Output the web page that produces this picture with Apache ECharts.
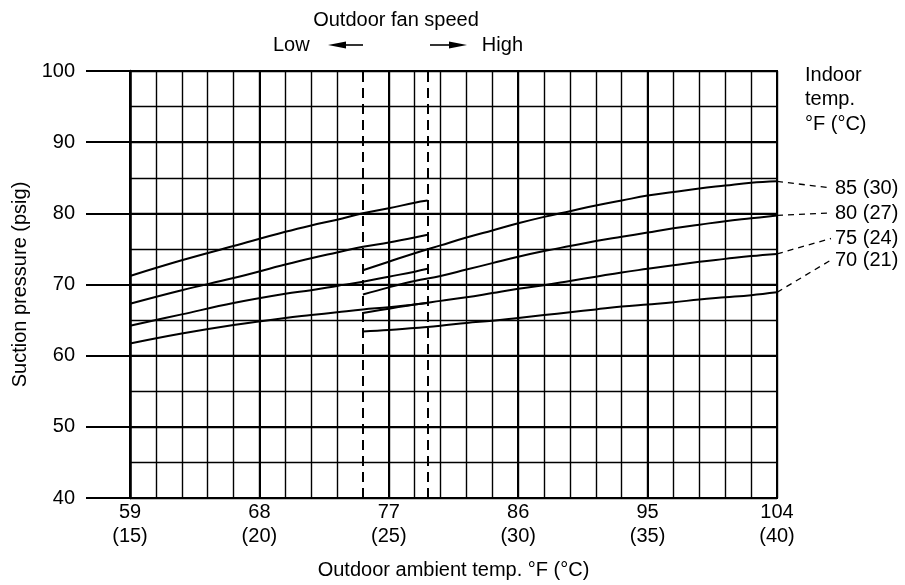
<!DOCTYPE html>
<html>
<head>
<meta charset="utf-8">
<script src="https://cdn.jsdelivr.net/npm/echarts@6/dist/echarts.min.js"></script>
<style>
  html, body { margin: 0; padding: 0; background: #fff; }
  #chart { width: 905px; height: 585px; }
</style>
</head>
<body>
<div id="chart"></div>
<script>
// Outdoor ambient temperature, °C (the axis runs in °C, labelled °F with °C below)
const lowFanTempC  = [15, 17, 19, 21, 22, 23, 24, 25, 26, 26.5];
const highFanTempC = [24, 25, 26, 27, 28, 29, 30, 31, 32, 33, 34, 35, 36, 37, 38, 39, 40];

// Suction pressure (psig), low outdoor fan speed
const low85 = [71.2, 73.4, 75.4, 77.4, 78.3, 79.1, 80.0, 80.7, 81.5, 81.8];
const low80 = [67.3, 69.2, 70.9, 72.8, 73.7, 74.5, 75.3, 75.9, 76.6, 77.0];
const low75 = [64.2, 65.8, 67.4, 68.7, 69.2, 69.8, 70.4, 71.1, 71.8, 72.2];
const low70 = [61.7, 63.1, 64.3, 65.3, 65.7, 66.1, 66.5, 66.8, 67.2, 67.4];

// Suction pressure (psig), high outdoor fan speed
const high85 = [72.0, 73.2, 74.4, 75.5, 76.6, 77.6, 78.6, 79.5, 80.3, 81.1, 81.8, 82.5, 83.0, 83.5, 83.9, 84.3, 84.5];
const high80 = [68.6, 69.6, 70.5, 71.2, 72.1, 73.0, 73.9, 74.7, 75.4, 76.1, 76.7, 77.3, 77.9, 78.4, 78.9, 79.3, 79.7];
const high75 = [66.0, 66.6, 67.2, 67.7, 68.2, 68.8, 69.4, 69.9, 70.5, 71.1, 71.7, 72.2, 72.7, 73.2, 73.6, 74.0, 74.3];
const high70 = [63.4, 63.6, 63.9, 64.2, 64.6, 64.9, 65.3, 65.7, 66.1, 66.5, 66.9, 67.2, 67.5, 67.9, 68.2, 68.5, 68.9];

// Indoor temperature curves
const indoorF = [85, 80, 75, 70];
const indoorC = [30, 27, 24, 21];

// Fan speed change-over temperatures, °C
const fanSwitchC = [24, 26.5];

// Tick labels of the outdoor axis
const tickC = [15, 20, 25, 30, 35, 40];
const tickF = [59, 68, 77, 86, 95, 104];

const FONT = '"Liberation Sans", Arial, Helvetica, sans-serif';
const lowSets = [low85, low80, low75, low70];
const highSets = [high85, high80, high75, high70];

const pairs = (xs, ys) => xs.map((x, i) => [x, ys[i]]);

// 1 °C grid lines; the one under the first change-over line is left out
const minorColors = [];
for (let c = 15; c <= 40; c++) minorColors.push(c === fanSwitchC[0] ? 'rgba(0,0,0,0)' : '#000');

const curveStyle = { color: '#000', width: 2 };
const series = [];
indoorF.forEach((t, i) => {
  series.push({
    name: t + ' low', type: 'line', xAxisIndex: 0, yAxisIndex: 0,
    data: pairs(lowFanTempC, lowSets[i]), showSymbol: false, smooth: 0.4,
    lineStyle: curveStyle, z: 5, silent: true
  });
  series.push({
    name: t + ' high', type: 'line', xAxisIndex: 0, yAxisIndex: 0,
    data: pairs(highFanTempC, highSets[i]), showSymbol: false, smooth: 0.4,
    lineStyle: curveStyle, z: 5, silent: true
  });
});
series[0].markLine = {
  silent: true, symbol: ['none', 'none'], label: { show: false },
  lineStyle: { color: '#000', width: 2, type: [10, 6] },
  data: fanSwitchC.map(c => ({ xAxis: c }))
};

const chart = echarts.init(document.getElementById('chart'), null, { renderer: 'canvas' });
chart.setOption({
  animation: false,
  backgroundColor: '#fff',
  textStyle: { fontFamily: FONT, color: '#000' },
  grid: { left: 130, top: 71, width: 647, height: 430, show: true, borderColor: '#000', borderWidth: 2, backgroundColor: 'transparent' },
  xAxis: [
    {
      type: 'value', min: 15, max: 40, interval: 5,
      axisLine: { show: false }, axisTick: { show: false },
      splitLine: { show: true, lineStyle: { color: '#000', width: 2 } },
      axisLabel: {
        fontSize: 20, lineHeight: 24, margin: 2, color: '#000', fontFamily: FONT,
        showMinLabel: true, showMaxLabel: true,
        formatter: v => {
          const k = tickC.indexOf(Math.round(v * 10) / 10);
          return k < 0 ? '' : tickF[k] + '\n(' + tickC[k] + ')';
        }
      },
      name: 'Outdoor ambient temp. °F (°C)', nameLocation: 'middle', nameGap: 62,
      nameTextStyle: { fontSize: 20, color: '#000', fontFamily: FONT }
    },
    {
      type: 'value', min: 15, max: 40, interval: 1, position: 'bottom',
      axisLine: { show: false }, axisTick: { show: false }, axisLabel: { show: false },
      splitLine: { show: true, lineStyle: { color: minorColors, width: 1.4 } }
    }
  ],
  yAxis: [
    {
      type: 'value', min: 40, max: 100, interval: 10,
      axisLine: { show: true, lineStyle: { color: '#000', width: 2.5 } },
      axisTick: { show: true, length: 44, lineStyle: { color: '#000', width: 2 } },
      splitLine: { show: true, lineStyle: { color: '#000', width: 2 } },
      axisLabel: { fontSize: 20, margin: 55, color: '#000', fontFamily: FONT },
      name: 'Suction pressure (psig)', nameLocation: 'middle', nameGap: 95, nameRotate: 90,
      nameTextStyle: { fontSize: 20, color: '#000', fontFamily: FONT }
    },
    {
      type: 'value', min: 40, max: 100, interval: 5, position: 'left',
      axisLine: { show: false }, axisTick: { show: false }, axisLabel: { show: false },
      splitLine: { show: true, lineStyle: { color: '#000', width: 1.3 } }
    }
  ],
  series: series
});

// Annotations: fan-speed header, indoor-temperature legend and leader lines
const txt = (text, x, y, align) => ({
  type: 'text', x: x, y: y, silent: true, z: 20,
  style: { text: text, fontSize: 20, fontFamily: FONT, fill: '#000', align: align || 'left', verticalAlign: 'middle' }
});
const graphics = [
  txt('Outdoor fan speed', 396, 20, 'center'),
  txt('Low', 273, 45),
  txt('High', 523, 45, 'right'),
  { type: 'polyline', silent: true, shape: { points: [[344, 45], [363, 45]] }, style: { stroke: '#000', lineWidth: 1.6 } },
  { type: 'polygon', silent: true, shape: { points: [[328, 45], [346, 41.5], [346, 48.5]] }, style: { fill: '#000' } },
  { type: 'polyline', silent: true, shape: { points: [[430, 45], [451, 45]] }, style: { stroke: '#000', lineWidth: 1.6 } },
  { type: 'polygon', silent: true, shape: { points: [[467, 45], [449, 41.5], [449, 48.5]] }, style: { fill: '#000' } },
  txt('Indoor', 805, 75),
  txt('temp.', 805, 99),
  txt('°F (°C)', 805, 124)
];
const labelY = [188, 213, 238.5, 260];
indoorF.forEach((t, i) => {
  const set = highSets[i];
  const end = chart.convertToPixel({ xAxisIndex: 0, yAxisIndex: 0 }, [highFanTempC[highFanTempC.length - 1], set[set.length - 1]]);
  graphics.push({
    type: 'polyline', silent: true, z: 20,
    shape: { points: [end, [831, labelY[i]]] },
    style: { stroke: '#000', lineWidth: 1.3, lineDash: [6, 5] }
  });
  graphics.push(txt(t + ' (' + indoorC[i] + ')', 835, labelY[i]));
});
chart.setOption({ graphic: graphics });
</script>
</body>
</html>
